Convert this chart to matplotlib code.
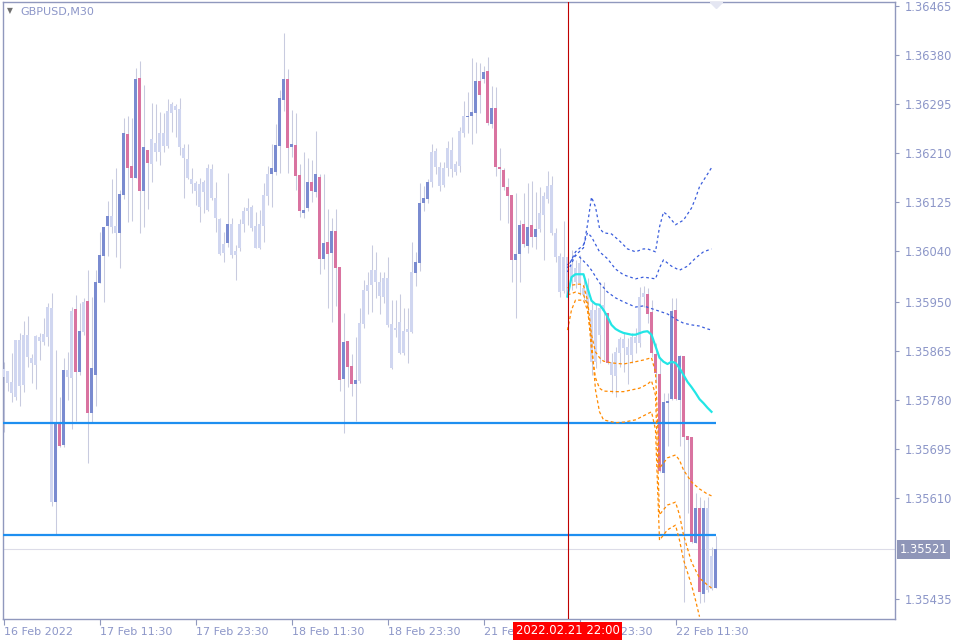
import numpy as np
import matplotlib
matplotlib.use("Agg")
import matplotlib.pyplot as plt

# ---------------- data (GBPUSD M30, bar index 0 = 16 Feb 23:30) ----------------
opens = [1.35834,1.35831,1.35812,1.35786,1.35885,1.35807,1.35894,1.35854,1.35841,1.35890,
1.35881,1.35890,1.35940,1.35603,1.35741,1.35702,1.35833,1.35819,1.35939,1.35829,
1.35899,1.35953,1.35758,1.35824,1.35984,1.36031,1.36083,1.36100,1.36083,1.36071,
1.36137,1.36243,1.36187,1.36166,1.36340,1.36144,1.36215,1.36191,1.36227,1.36211,
1.36244,1.36222,1.36279,1.36291,1.36286,1.36218,1.36199,1.36165,1.36158,1.36156,
1.36142,1.36111,1.36182,1.36131,1.36095,1.36036,1.36053,1.36086,1.36032,1.36045,
1.36086,1.36109,1.36116,1.36083,1.36045,1.36083,1.36135,1.36173,1.36177,1.36222,
1.36302,1.36338,1.36220,1.36224,1.36171,1.36105,1.36114,1.36159,1.36142,1.36168,
1.36026,1.36055,1.36036,1.36074,1.36012,1.35817,1.35883,1.35840,1.35808,1.35814,
1.35913,1.35970,1.35980,1.36006,1.35986,1.35960,1.35993,1.35913,1.35902,1.35916,
1.35862,1.35899,1.35899,1.36001,1.36019,1.36123,1.36130,1.36159,1.36213,1.36185,
1.36154,1.36184,1.36215,1.36177,1.36187,1.36244,1.36272,1.36274,1.36279,1.36335,
1.36338,1.36352,1.36260,1.36288,1.36185,1.36180,1.36151,1.36137,1.36024,1.36034,
1.36086,1.36048,1.36085,1.36064,1.36078,1.36102,1.36130,1.36154,1.36071,1.36031,
1.35970,1.36029,1.35989,1.36010,1.35984,1.35975,1.35977,1.35937,1.35847,1.35940,
1.35935,1.35932,1.35847,1.35822,1.35862,1.35887,1.35873,1.35859,1.35880,1.35880,
1.35960,1.35965,1.35933,1.35861,1.35826,1.35654,1.35775,1.35782,1.35937,1.35781,
1.35857,1.35718,1.35716,1.35532,1.35593,1.35444,1.35593,1.35452,1.35454]
highs = [1.35847,1.35831,1.35862,1.35885,1.35897,1.35918,1.35927,1.35861,1.35894,1.35897,
1.35923,1.35949,1.35966,1.35867,1.35786,1.35854,1.35864,1.35942,1.35963,1.35949,
1.35958,1.36006,1.35960,1.36006,1.36072,1.36081,1.36126,1.36165,1.36184,1.36145,
1.36270,1.36274,1.36270,1.36357,1.36369,1.36328,1.36215,1.36296,1.36295,1.36281,
1.36279,1.36303,1.36298,1.36295,1.36305,1.36225,1.36225,1.36184,1.36161,1.36166,
1.36163,1.36191,1.36191,1.36159,1.36097,1.36072,1.36175,1.36097,1.36050,1.36095,
1.36116,1.36131,1.36119,1.36107,1.36111,1.36158,1.36187,1.36225,1.36260,1.36319,
1.36418,1.36355,1.36284,1.36279,1.36191,1.36211,1.36201,1.36198,1.36248,1.36173,
1.36173,1.36112,1.36097,1.36112,1.36012,1.35932,1.35883,1.35861,1.35890,1.35940,
1.35989,1.36003,1.36050,1.36038,1.36003,1.36003,1.36029,1.35954,1.35954,1.35965,
1.35940,1.35940,1.36055,1.36038,1.36158,1.36152,1.36165,1.36225,1.36218,1.36194,
1.36194,1.36231,1.36237,1.36196,1.36255,1.36300,1.36316,1.36375,1.36368,1.36366,
1.36361,1.36376,1.36326,1.36324,1.36218,1.36184,1.36166,1.36137,1.36140,1.36093,
1.36140,1.36158,1.36161,1.36142,1.36151,1.36142,1.36178,1.36170,1.36079,1.36036,
1.36092,1.36036,1.36041,1.36024,1.36032,1.35993,1.35993,1.35954,1.35949,1.35986,
1.35986,1.35932,1.35862,1.35873,1.35890,1.35897,1.35888,1.35897,1.35906,1.35977,
1.35979,1.35975,1.35954,1.35880,1.35855,1.35793,1.35793,1.35958,1.35958,1.35859,
1.35857,1.35718,1.35716,1.35619,1.35612,1.35607,1.35612,1.35525,1.35544]
lows = [1.35725,1.35796,1.35777,1.35781,1.35770,1.35795,1.35838,1.35810,1.35800,1.35850,
1.35876,1.35874,1.35597,1.35548,1.35699,1.35699,1.35781,1.35730,1.35744,1.35824,
1.35894,1.35671,1.35742,1.35770,1.35984,1.35951,1.36031,1.36071,1.36029,1.36010,
1.36130,1.36090,1.36092,1.36166,1.36071,1.36081,1.36112,1.36159,1.36196,1.36189,
1.36211,1.36218,1.36246,1.36237,1.36206,1.36131,1.36165,1.36140,1.36119,1.36090,
1.36105,1.36109,1.36128,1.36072,1.36032,1.36020,1.36046,1.36027,1.35989,1.36039,
1.36072,1.36085,1.36074,1.36045,1.36043,1.36055,1.36119,1.36116,1.36171,1.36175,
1.36283,1.36175,1.36203,1.36145,1.36098,1.36097,1.36109,1.36125,1.36133,1.35999,
1.36008,1.35940,1.35916,1.35944,1.35796,1.35723,1.35803,1.35788,1.35744,1.35810,
1.35906,1.35930,1.35933,1.35958,1.35930,1.35949,1.35907,1.35834,1.35890,1.35861,
1.35859,1.35845,1.35897,1.35979,1.36005,1.36109,1.36123,1.36151,1.36173,1.36144,
1.36151,1.36170,1.36168,1.36171,1.36177,1.36237,1.36244,1.36225,1.36244,1.36279,
1.36331,1.36258,1.36253,1.36170,1.36093,1.36145,1.36088,1.35986,1.35923,1.35986,
1.36046,1.36036,1.36046,1.36043,1.36072,1.36024,1.36123,1.36067,1.36020,1.35960,
1.35966,1.35954,1.35972,1.35975,1.35963,1.35954,1.35933,1.35824,1.35836,1.35845,
1.35850,1.35843,1.35793,1.35786,1.35838,1.35829,1.35808,1.35845,1.35862,1.35873,
1.35942,1.35914,1.35855,1.35810,1.35656,1.35550,1.35701,1.35781,1.35781,1.35701,
1.35430,1.35584,1.35532,1.35532,1.35428,1.35430,1.35447,1.35451,1.35454]
closes = [1.35821,1.35810,1.35793,1.35885,1.35805,1.35894,1.35855,1.35845,1.35892,1.35883,
1.35895,1.35942,1.35603,1.35741,1.35701,1.35833,1.35821,1.35935,1.35829,1.35900,
1.35951,1.35758,1.35836,1.35986,1.36032,1.36081,1.36100,1.36081,1.36071,1.36138,
1.36244,1.36184,1.36166,1.36338,1.36144,1.36220,1.36192,1.36234,1.36211,1.36244,
1.36222,1.36283,1.36295,1.36284,1.36220,1.36201,1.36166,1.36156,1.36144,1.36116,
1.36159,1.36184,1.36131,1.36097,1.36034,1.36052,1.36086,1.36032,1.36039,1.36086,
1.36109,1.36114,1.36079,1.36045,1.36086,1.36137,1.36173,1.36184,1.36224,1.36305,
1.36338,1.36218,1.36225,1.36170,1.36109,1.36111,1.36159,1.36144,1.36173,1.36026,
1.36053,1.36034,1.36074,1.36010,1.35815,1.35881,1.35838,1.35808,1.35815,1.35914,
1.35972,1.35980,1.36006,1.35986,1.35961,1.35993,1.35911,1.35836,1.35906,1.35862,
1.35900,1.35904,1.36003,1.36020,1.36123,1.36131,1.36159,1.36211,1.36185,1.36152,
1.36184,1.36218,1.36182,1.36191,1.36248,1.36274,1.36274,1.36281,1.36335,1.36310,
1.36350,1.36262,1.36288,1.36185,1.36182,1.36151,1.36135,1.36024,1.36034,1.36085,
1.36052,1.36081,1.36064,1.36078,1.36105,1.36135,1.36152,1.36071,1.36029,1.35968,
1.36029,1.35960,1.36015,1.35986,1.36019,1.35963,1.35949,1.35847,1.35937,1.35894,
1.35946,1.35845,1.35824,1.35864,1.35887,1.35871,1.35859,1.35890,1.35890,1.35960,
1.35966,1.35930,1.35862,1.35828,1.35657,1.35777,1.35779,1.35935,1.35782,1.35857,
1.35716,1.35711,1.35534,1.35593,1.35447,1.35593,1.35451,1.35510,1.35522]

highlighted = ([13,14,15,18,19,21,22,23,24,25,26,29,30,31,32,33,34,35,36,56]
               + list(range(67, 89)) + [103,104,105,106] + list(range(116, 134))
               + [151] + list(range(161, 176)) + [178])

# forecast overlays: (bar index, price) anchors
cyan_bars   = [141,142,143,145,146,147,148,149,150,151,152,153,154,155,157,158,160,161,162,163,
               164,165,166,167,168,169,170,171,172,173,174,175,176,177]
cyan_prices = [1.35960,1.35994,1.35999,1.35999,1.35975,1.35953,1.35947,1.35946,1.35937,1.35925,
               1.35911,1.35904,1.35900,1.35897,1.35894,1.35894,1.35899,1.35900,1.35894,1.35874,
               1.35854,1.35847,1.35843,1.35847,1.35845,1.35836,1.35824,1.35812,1.35803,1.35793,
               1.35782,1.35775,1.35767,1.35760]

band_top_bars   = [141,143,145,146,147,148,149,150,152,154,156,158,160,161,163,164,165,166,168,170,172,173,174,176,177]
band_top_prices = [1.36003,1.36032,1.36045,1.36085,1.36133,1.36116,1.36079,1.36071,1.36069,1.36057,1.36043,
                   1.36038,1.36043,1.36043,1.36038,1.36081,1.36107,1.36102,1.36085,1.36093,1.36114,1.36131,
                   1.36151,1.36173,1.36184]
band_mid_bars   = [141,143,145,146,147,149,151,153,155,158,160,163,164,165,167,169,171,173,175,177]
band_mid_prices = [1.36010,1.36038,1.36050,1.36071,1.36064,1.36038,1.36026,1.36008,1.35998,1.35991,
                   1.35994,1.35991,1.36010,1.36024,1.36013,1.36006,1.36013,1.36027,1.36038,1.36043]
band_low_bars   = [141,143,144,146,147,149,151,153,155,158,160,163,166,168,170,172,174,176,177]
band_low_prices = [1.36015,1.36032,1.36029,1.36015,1.36006,1.35984,1.35968,1.35958,1.35951,1.35942,
                   1.35944,1.35937,1.35930,1.35921,1.35914,1.35911,1.35909,1.35904,1.35902]

proj1_bars   = [141,142,144,145,146,147,148,149,150,152,155,158,160,162,163,164,165,166,168,169,170,172,174,176,177]
proj1_prices = [1.35975,1.35980,1.35982,1.35979,1.35954,1.35894,1.35864,1.35854,1.35848,1.35845,1.35843,
                1.35847,1.35850,1.35854,1.35829,1.35662,1.35671,1.35680,1.35685,1.35676,1.35659,1.35638,
                1.35626,1.35617,1.35614]
proj2_bars   = [141,143,145,146,147,148,149,150,153,155,157,159,161,162,163,164,165,166,168,169,170,172,174,176,177]
proj2_prices = [1.35963,1.35968,1.35963,1.35946,1.35867,1.35819,1.35801,1.35796,1.35795,1.35795,1.35798,
                1.35801,1.35808,1.35814,1.35789,1.35581,1.35590,1.35598,1.35603,1.35581,1.35546,1.35499,
                1.35471,1.35459,1.35454]
proj3_bars   = [141,142,143,145,146,147,148,149,150,153,155,158,160,162,163,164,166,168,169,170,172,173,174]
proj3_prices = [1.35902,1.35937,1.35954,1.35954,1.35937,1.35885,1.35798,1.35760,1.35746,1.35741,1.35742,
                1.35746,1.35753,1.35760,1.35729,1.35537,1.35555,1.35563,1.35537,1.35503,1.35459,1.35433,1.35404]

levels = [1.35741, 1.35546]
current_price = 1.35521
marker_bar = 141
marker_label = "2022.02.21 22:00"
symbol_label = "GBPUSD,M30"

ytick_values = [1.36465,1.36380,1.36295,1.36210,1.36125,1.36040,1.35950,1.35865,
                1.35780,1.35695,1.35610,1.35435]
xtick_bars = [0, 24, 48, 72, 96, 120, 144, 168]
xtick_labels = ["16 Feb 2022", "17 Feb 11:30", "17 Feb 23:30", "18 Feb 11:30",
                "18 Feb 23:30", "21 Feb 11:30", "21 Feb 23:30", "22 Feb 11:30"]

# ---------------- styling ----------------
C_FADED = "#d0d6f0"
C_BULL = "#7a8bd0"
C_BEAR = "#d973a0"
C_WICK = "#c8cbdf"
C_AXIS = "#9098bd"
C_TEXT = "#8c96c8"

W, H = 960, 640
fig = plt.figure(figsize=(W / 100, H / 100), dpi=100)
fig.patch.set_facecolor("white")
L, R, T, B = 3, 895, 2, 619
ax = fig.add_axes([L / W, 1 - B / H, (R - L) / W, (B - T) / H])
ax.set_facecolor("white")

o = np.array(opens); h = np.array(highs); lo = np.array(lows); c = np.array(closes)
n = len(o)
xs = np.arange(n)
hl = np.zeros(n, dtype=bool)
hl[highlighted] = True

ax.set_xlim(-0.125, 222.875)
ax.set_ylim(1.35400, 1.36472)
px = (1.36472 - 1.35400) / (B - T)  # price per pixel

# current price line
ax.axhline(current_price, color="#dcdce8", lw=0.8, zorder=1)

# wicks
ax.vlines(xs, lo, h, color=C_WICK, lw=0.75, zorder=2)
# bodies
colors = []
for i in range(n):
    if not hl[i]:
        colors.append(C_FADED)
    else:
        colors.append(C_BULL if c[i] >= o[i] else C_BEAR)
bottoms = np.minimum(o, c)
heights = np.maximum(np.abs(c - o), px)
ax.bar(xs, heights, bottom=bottoms, width=0.75, color=colors, linewidth=0, zorder=3)

# support / resistance levels
ax.hlines(levels, -0.125, 178, color="#1e8ff0", lw=1.6, zorder=4)

# forecast overlays
for bx, by in [(band_top_bars, band_top_prices), (band_mid_bars, band_mid_prices),
               (band_low_bars, band_low_prices)]:
    ax.plot(bx, by, color="#3a5ddc", lw=0.9, ls=(0, (2.2, 2.2)), zorder=5)
for bx, by in [(proj1_bars, proj1_prices), (proj2_bars, proj2_prices), (proj3_bars, proj3_prices)]:
    ax.plot(bx, by, color="#ff8a00", lw=0.9, ls=(0, (2.5, 2.0)), zorder=5)
ax.plot(cyan_bars, cyan_prices, color="#22e6e6", lw=1.6, zorder=6)

# vertical time marker
ax.axvline(marker_bar, color="#c00000", lw=0.8, zorder=7)

# shift marker at the top
ax.plot([178], [1.36472], marker="D", ms=6, color="#e4e6f2", zorder=8, clip_on=True)

# axes styling
for s in ax.spines.values():
    s.set_color(C_AXIS)
    s.set_linewidth(1.0)

ax.yaxis.tick_right()
ax.set_yticks(ytick_values)
ax.set_yticklabels([f"{v:.5f}" for v in ytick_values])
ax.tick_params(axis="y", direction="out", length=3, width=0.8, color=C_AXIS,
               labelcolor=C_TEXT, labelsize=8.3, pad=4)
ax.set_xticks(xtick_bars)
ax.set_xticklabels(xtick_labels, ha="left")
ax.tick_params(axis="x", direction="out", length=4, width=0.8, color=C_AXIS,
               labelcolor=C_TEXT, labelsize=8.0, pad=2)

# current price tag on the price scale
ax.annotate(f"{current_price:.5f}", xy=(1.0, current_price), xycoords=("axes fraction", "data"),
            xytext=(3.5, 0), textcoords="offset points", va="center", ha="left",
            color="white", fontsize=8.3,
            bbox=dict(boxstyle="square,pad=0.25", fc="#8f96b8", ec="none"), zorder=10,
            annotation_clip=False)

# time tag on the time scale
ax.annotate(marker_label, xy=(marker_bar, 0), xycoords=("data", "axes fraction"),
            xytext=(0, -8.6), textcoords="offset points", va="center", ha="center",
            color="white", fontsize=8.4,
            bbox=dict(boxstyle="square,pad=0.22", fc="#ff0000", ec="none"), zorder=10,
            annotation_clip=False)

# symbol caption
fig.text(10 / W, 1 - 11 / H, "\u25BC", color="#707070", fontsize=5.5, va="center", ha="center")
fig.text(20 / W, 1 - 12 / H, symbol_label, color=C_TEXT, fontsize=8.0, va="center", ha="left")

fig.savefig("out.png", dpi=100, facecolor="white")
